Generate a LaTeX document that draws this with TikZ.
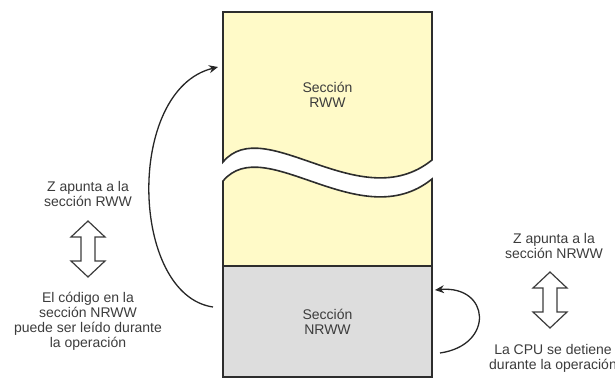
\documentclass[tikz,border=0pt]{standalone}
\usepackage{fontspec}
\setmainfont{Liberation Sans}
\usepackage{tikz}
\usetikzlibrary{arrows.meta,positioning,calc}
\definecolor{rwwyellow}{RGB}{255,250,200}
\definecolor{nrwwgray}{RGB}{221,221,221}
\definecolor{edgegray}{RGB}{45,45,45}
\definecolor{textgray}{RGB}{60,60,60}

% flecha doble hueca (vertical) centrada en una coordenada
\newcommand{\dblarrow}[1]{%
  \draw[updown] (#1) ++(0,-28) -- ++(17,16) -- ++(-10,0) -- ++(0,24) -- ++(10,0)
    -- ++(-17,16) -- ++(-17,-16) -- ++(10,0) -- ++(0,-24) -- ++(-10,0) -- cycle;}

\begin{document}
\begin{tikzpicture}[
      x=1pt, y=-1pt,
      >=Stealth,
      memblock/.style={draw=edgegray, line width=1.6pt, line join=miter},
      txt/.style={align=center, text=textgray, inner sep=0pt,
        font=\fontsize{14}{15}\selectfont},
      flow/.style={-{Stealth[length=9pt,width=8pt]}, line width=1.3pt, black!85},
      updown/.style={draw=textgray, fill=white, line width=1.2pt, line join=miter},
  ]
      \useasboundingbox (0,0) rectangle (615,381);

      % Sección RWW (cortada)
      \draw[memblock, fill=rwwyellow] (223,12) -- (432,12) -- (432,160)
          .. controls (360,218) and (265,112) .. (223,162) -- cycle;
      \draw[memblock, fill=rwwyellow] (223,181) .. controls (265,131) and (360,237) .. (432,179)
          -- (432,266) -- (223,266) -- cycle;
      \node[txt] (rww) at (327.5,95) {Sección\\RWW};

      % Sección NRWW
      \node[memblock, txt, fill=nrwwgray, minimum width=209pt, minimum height=111pt]
          (nrww) at (327.5,321.5) {Sección\\NRWW};

      % Textos laterales
      \node[txt] (zrww) at (88,194) {Z apunta a la\\sección RWW};
      \coordinate (lswap) at (88,249);
      \node[txt] (leer) at (88,321) {El código en la\\sección NRWW\\puede ser leído durante\\la operación};

      \node[txt] (znrww) at (554,246) {Z apunta a la\\sección NRWW};
      \coordinate (rswap) at (550,300);
      \node[txt] (cpu) at (553,358) {La CPU se detiene\\durante la operación};

      \dblarrow{lswap}
      \dblarrow{rswap}

      % Flechas curvas
      \coordinate (nrwwout) at (213,307);
      \coordinate (rwwin) at (218,67);
      \draw[flow] (nrwwout) .. controls (130,295) and (125,90) .. (rwwin);

      \coordinate (cpuout) at (440,353);
      \coordinate (nrwwin) at (435,290);
      \draw[flow] (cpuout) .. controls (495,345) and (490,285) .. (nrwwin);

  \end{tikzpicture}
\end{document}
